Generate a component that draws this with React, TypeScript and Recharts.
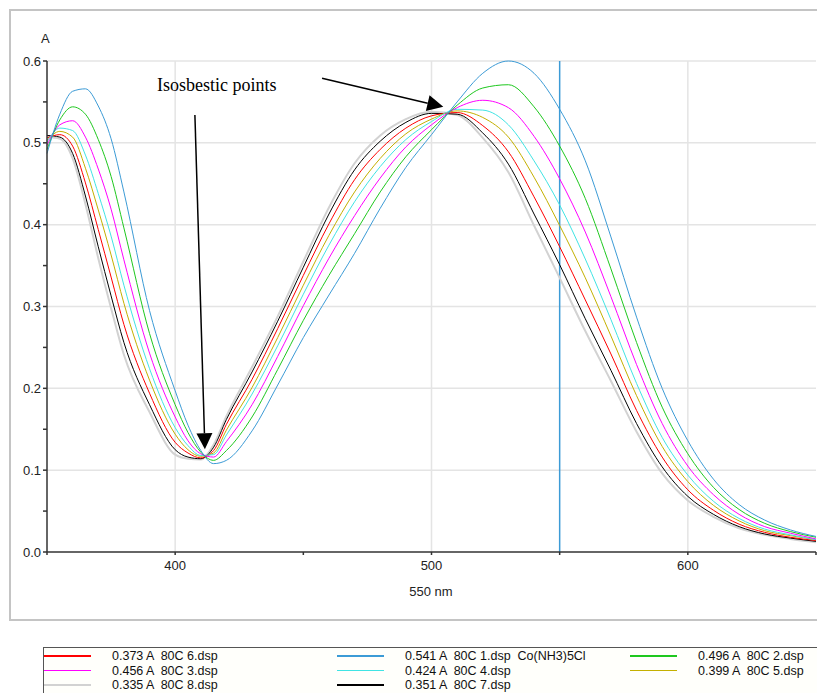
import { LineChart, Line, XAxis, YAxis, CartesianGrid, ReferenceLine } from 'recharts';

// wavelength grid (nm)
const wavelengths = [
  350, 355, 360, 365, 370, 375, 380, 390, 400, 405, 410, 415, 420, 430, 440, 450, 460, 470, 480,
  490, 500, 510, 520, 530, 540, 550, 560, 570, 580, 590, 600, 610, 620, 630, 640, 650,
];

// absorbance per scan
const scan1 = [
  0.487, 0.535, 0.563, 0.566, 0.545, 0.505, 0.44, 0.295, 0.197, 0.155, 0.124, 0.108, 0.112, 0.148, 0.204, 0.262, 0.314, 0.365, 0.42,
  0.47, 0.51, 0.55, 0.585, 0.6, 0.585, 0.541, 0.478, 0.385, 0.287, 0.2, 0.136, 0.089, 0.058, 0.039, 0.027, 0.019,
];
const scan2 = [
  0.492, 0.528, 0.544, 0.535, 0.504, 0.459, 0.396, 0.267, 0.18, 0.146, 0.122, 0.112, 0.124, 0.165, 0.223, 0.283, 0.338, 0.389, 0.44,
  0.483, 0.516, 0.546, 0.567, 0.571, 0.544, 0.496, 0.432, 0.346, 0.256, 0.177, 0.12, 0.079, 0.052, 0.035, 0.025, 0.018,
];
const scan3 = [
  0.497, 0.522, 0.527, 0.507, 0.468, 0.419, 0.357, 0.243, 0.165, 0.136, 0.12, 0.116, 0.135, 0.18, 0.239, 0.301, 0.359, 0.411, 0.457,
  0.495, 0.522, 0.543, 0.552, 0.543, 0.508, 0.456, 0.391, 0.312, 0.229, 0.157, 0.105, 0.07, 0.046, 0.031, 0.023, 0.016,
];
const scan4 = [
  0.501, 0.518, 0.515, 0.485, 0.438, 0.386, 0.326, 0.224, 0.152, 0.13, 0.118, 0.119, 0.143, 0.193, 0.252, 0.315, 0.375, 0.428, 0.471,
  0.504, 0.526, 0.541, 0.54, 0.522, 0.478, 0.424, 0.358, 0.284, 0.206, 0.14, 0.094, 0.062, 0.041, 0.028, 0.021, 0.015,
];
const scan5 = [
  0.503, 0.514, 0.507, 0.469, 0.418, 0.363, 0.304, 0.21, 0.144, 0.125, 0.117, 0.121, 0.149, 0.201, 0.262, 0.326, 0.387, 0.44, 0.481,
  0.511, 0.529, 0.539, 0.531, 0.507, 0.458, 0.399, 0.335, 0.264, 0.191, 0.129, 0.086, 0.057, 0.038, 0.026, 0.02, 0.015,
];
const scan6 = [
  0.506, 0.51, 0.496, 0.451, 0.394, 0.336, 0.278, 0.194, 0.134, 0.121, 0.115, 0.124, 0.156, 0.211, 0.273, 0.338, 0.401, 0.455, 0.492,
  0.518, 0.533, 0.537, 0.521, 0.489, 0.434, 0.373, 0.308, 0.242, 0.173, 0.116, 0.076, 0.051, 0.034, 0.024, 0.018, 0.014,
];
const scan7 = [
  0.509, 0.507, 0.487, 0.435, 0.373, 0.313, 0.256, 0.18, 0.125, 0.116, 0.114, 0.128, 0.162, 0.22, 0.282, 0.348, 0.413, 0.467, 0.502,
  0.525, 0.536, 0.535, 0.512, 0.474, 0.413, 0.351, 0.285, 0.222, 0.157, 0.104, 0.068, 0.046, 0.031, 0.022, 0.017, 0.013,
];
const scan8 = [
  0.507, 0.505, 0.481, 0.425, 0.359, 0.298, 0.241, 0.171, 0.119, 0.114, 0.113, 0.131, 0.166, 0.226, 0.288, 0.355, 0.421, 0.475, 0.509,
  0.529, 0.538, 0.534, 0.506, 0.464, 0.399, 0.335, 0.27, 0.209, 0.147, 0.096, 0.063, 0.043, 0.029, 0.021, 0.016, 0.012,
];

const xTicks = [350, 400, 450, 500, 550, 600, 650];
const yTicks = [0, 0.05, 0.1, 0.15, 0.2, 0.25, 0.3, 0.35, 0.4, 0.45, 0.5, 0.55, 0.6];
const gridX = [400, 500, 600];
const gridY = [0.1, 0.2, 0.3, 0.4, 0.5, 0.6];
const cursorNm = 550;

const series = [
  { key: 's8', name: '80C 8.dsp', values: scan8, color: '#d2d2d2', width: 2 },
  { key: 's7', name: '80C 7.dsp', values: scan7, color: '#000000', width: 1 },
  { key: 's6', name: '80C 6.dsp', values: scan6, color: '#ff0000', width: 1 },
  { key: 's5', name: '80C 5.dsp', values: scan5, color: '#c4b000', width: 1 },
  { key: 's4', name: '80C 4.dsp', values: scan4, color: '#40e4e4', width: 1 },
  { key: 's3', name: '80C 3.dsp', values: scan3, color: '#ff00ff', width: 1 },
  { key: 's2', name: '80C 2.dsp', values: scan2, color: '#1ec81e', width: 1 },
  { key: 's1', name: '80C 1.dsp', values: scan1, color: '#3c9bd6', width: 1, extra: 'Co(NH3)5Cl' },
];

// legend layout: [row, col] per series key
const legendSlots: Record<string, [number, number]> = {
  s6: [0, 0], s1: [0, 1], s2: [0, 2],
  s3: [1, 0], s4: [1, 1], s5: [1, 2],
  s8: [2, 0], s7: [2, 1],
};
const legendCols = [44, 337, 630];

const data = wavelengths.map((nm, i) => {
  const row: Record<string, number> = { nm };
  series.forEach((s) => (row[s.key] = s.values[i]));
  return row;
});

const cursorIdx = wavelengths.indexOf(cursorNm);

function Arrow(props: any) {
  const { x1, y1, x2, y2 } = props;
  const dx = x2 - x1;
  const dy = y2 - y1;
  const len = Math.sqrt(dx * dx + dy * dy);
  const ux = dx / len;
  const uy = dy / len;
  const headLen = 16;
  const headHalf = 8;
  const bx = x2 - ux * headLen;
  const by = y2 - uy * headLen;
  const pts = `${x2},${y2} ${bx - uy * headHalf},${by + ux * headHalf} ${bx + uy * headHalf},${by - ux * headHalf}`;
  return (
    <g>
      <line x1={x1} y1={y1} x2={bx} y2={by} stroke="#000" strokeWidth={1.5} />
      <polygon points={pts} fill="#000" />
    </g>
  );
}

const fmtY = (v: number) => (Math.round(v * 100) % 10 === 0 ? v.toFixed(1) : '');
const fmtX = (v: number) => (v % 100 === 0 && v > 350 && v < 650 ? String(v) : '');

const labelFont = '"Liberation Sans", Arial, sans-serif';

export default function App() {
  return (
    <div
      style={{
        position: 'absolute',
        left: 0,
        top: 0,
        width: 817,
        height: 693,
        overflow: 'hidden',
        background: '#fff',
        fontFamily: labelFont,
      }}
    >
      {/* outer window frame */}
      <div
        style={{
          position: 'absolute',
          left: 9,
          top: 9,
          width: 830,
          height: 608,
          border: '2px solid #c4c4c4',
        }}
      />
      <div style={{ position: 'absolute', left: 0, top: 0 }}>
        <LineChart
          width={817}
          height={620}
          data={data}
          margin={{ top: 61, right: 1, left: 7, bottom: 18 }}
        >
          <CartesianGrid
            stroke="#e4e4e4"
            strokeWidth={1.5}
            horizontalValues={gridY}
            verticalValues={gridX}
          />
          <XAxis
            dataKey="nm"
            type="number"
            domain={[350, 650]}
            ticks={xTicks}
            tickFormatter={fmtX}
            interval={0}
            height={50}
            tickSize={3}
            tickMargin={6}
            stroke="#333"
            strokeWidth={1.5}
            tick={{ fill: '#222', fontSize: 13, fontFamily: labelFont }}
          />
          <YAxis
            type="number"
            domain={[0, 0.6]}
            ticks={yTicks}
            tickFormatter={fmtY}
            interval={0}
            width={40}
            tickSize={4}
            tickMargin={2}
            stroke="#333"
            strokeWidth={1.5}
            tick={{ fill: '#222', fontSize: 13, fontFamily: labelFont }}
          />
          <ReferenceLine x={cursorNm} stroke="#3c9bd6" strokeWidth={1.5} />
          {series.map((s) => (
            <Line
              key={s.key}
              type="monotone"
              dataKey={s.key}
              stroke={s.color}
              strokeWidth={s.width}
              dot={false}
              activeDot={false}
              isAnimationActive={false}
            />
          ))}
          <ReferenceLine
            segment={[
              { x: 407.7, y: 0.534 },
              { x: 411.6, y: 0.1256 },
            ]}
            shape={Arrow}
          />
          <ReferenceLine
            segment={[
              { x: 457.3, y: 0.579 },
              { x: 504.6, y: 0.544 },
            ]}
            shape={Arrow}
          />
        </LineChart>
      </div>

      <div style={{ position: 'absolute', left: 41, top: 31, fontSize: 13, color: '#222' }}>A</div>
      <div
        style={{
          position: 'absolute',
          left: 381,
          top: 584,
          width: 100,
          textAlign: 'center',
          fontSize: 13,
          color: '#222',
        }}
      >
        550 nm
      </div>
      <div
        style={{
          position: 'absolute',
          left: 157,
          top: 75,
          fontSize: 18,
          fontFamily: '"Liberation Serif", "Times New Roman", serif',
          color: '#000',
          whiteSpace: 'nowrap',
        }}
      >
        Isosbestic points
      </div>

      {/* legend box */}
      <div
        style={{
          position: 'absolute',
          left: 43,
          top: 647,
          width: 800,
          height: 60,
          borderTop: '1px solid #555',
          borderLeft: '1px solid #555',
          background: '#fffffb',
        }}
      />
      {series.map((s) => {
        const [r, c] = legendSlots[s.key];
        const x = legendCols[c];
        const y = 656 + r * 14.5;
        const label = `${s.values[cursorIdx].toFixed(3)} A  ${s.name}${s.extra ? '  ' + s.extra : ''}`;
        return (
          <div key={s.key}>
            <div
              style={{
                position: 'absolute',
                left: x,
                top: y - 1,
                width: 47,
                height: 1.5,
                background: s.color,
              }}
            />
            <div
              style={{
                position: 'absolute',
                left: x + 68,
                top: y - 7,
                fontSize: 12.5,
                lineHeight: '14px',
                color: '#111',
                whiteSpace: 'pre',
              }}
            >
              {label}
            </div>
          </div>
        );
      })}
    </div>
  );
}
